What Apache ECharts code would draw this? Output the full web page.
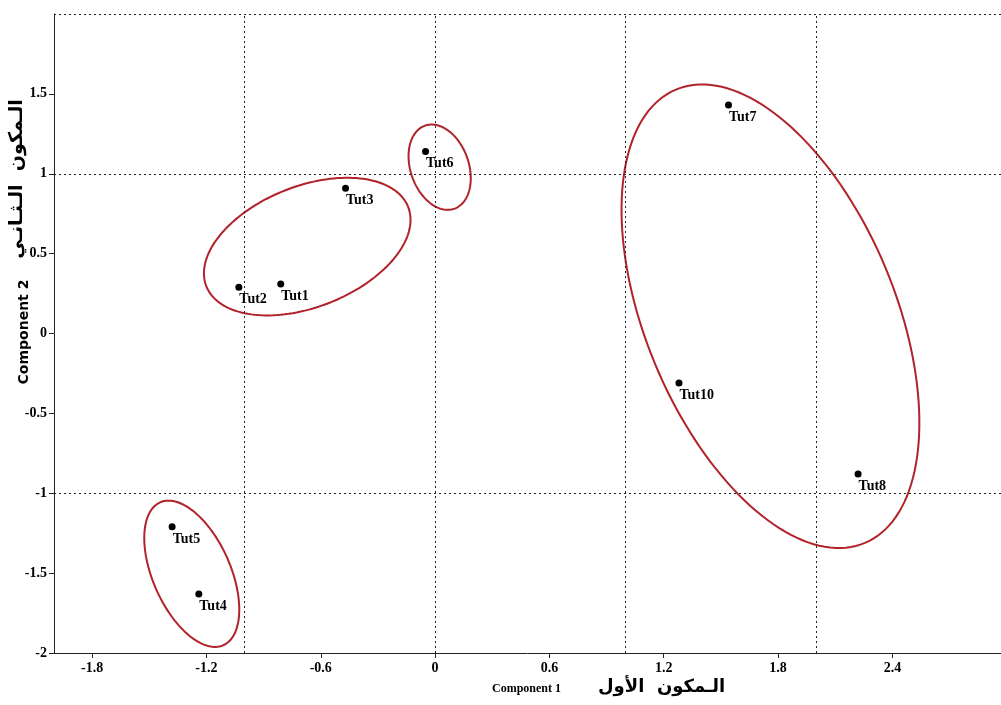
<!DOCTYPE html>
<html>
<head>
<meta charset="utf-8">
<script src="https://cdn.jsdelivr.net/npm/echarts@6/dist/echarts.min.js"></script>
<style>
html,body{margin:0;padding:0;background:#fff;}
#chart{width:1001px;height:705px;}
</style>
</head>
<body>
<div id="chart"></div>
<script>
// ---- data ----
const pointNames = ['Tut1','Tut2','Tut3','Tut4','Tut5','Tut6','Tut7','Tut8','Tut10'];
const component1 = [-0.81, -1.03, -0.47, -1.24, -1.38, -0.05, 1.54, 2.22, 1.28];
const component2 = [0.31, 0.29, 0.91, -1.63, -1.21, 1.14, 1.43, -0.88, -0.31];

// ellipses: centre and two conjugate semi-axis vectors, in data units
const ellipseCenterX = [-0.671, 0.024, 1.760, -1.277];
const ellipseCenterY = [0.544, 1.041, 0.108, -1.504];
const ellipseAxisA = [[0.530, 0.247], [0.077, -0.260], [0.496, -1.419], [0.166, -0.447]];
const ellipseAxisB = [[0.114, -0.353], [0.144, 0.061], [0.604, 0.303], [0.186, 0.099]];

const xTickValues = [-1.8, -1.2, -0.6, 0, 0.6, 1.2, 1.8, 2.4];
const yTickValues = [-2, -1.5, -1, -0.5, 0, 0.5, 1, 1.5];
const gridLinesX = [-1, 0, 1, 2];
const gridLinesY = [-1, 1, 2];

const xTitleEn = 'Component 1';
const xTitleAr = 'الـمكون  الأول';
const yTitleEn = 'Component 2';
const yTitleAr = 'الـمكون  الـثـانـي';

// ---- build ----
const points = pointNames.map((n, i) => ({ name: n, value: [component1[i], component2[i]] }));
const ellipses = ellipseCenterX.map((cx, i) => [cx, ellipseCenterY[i],
  ellipseAxisA[i][0], ellipseAxisA[i][1], ellipseAxisB[i][0], ellipseAxisB[i][1]]);

const serif = '"Liberation Serif", "Times New Roman", serif';
const chart = echarts.init(document.getElementById('chart'));

chart.setOption({
  animation: false,
  backgroundColor: '#fff',
  grid: { left: 54, right: 0, top: 14, bottom: 52, containLabel: false },
  xAxis: {
    type: 'value', min: -2, max: 2.97,
    axisLine: { show: true, onZero: false, lineStyle: { color: '#222', width: 1 } },
    axisTick: { show: true, customValues: xTickValues, length: 5, lineStyle: { color: '#222' } },
    axisLabel: { customValues: xTickValues, color: '#000', fontFamily: serif, fontWeight: 'bold', fontSize: 14, margin: 8 },
    splitLine: { show: false }
  },
  yAxis: {
    type: 'value', min: -2, max: 2,
    axisLine: { show: true, onZero: false, lineStyle: { color: '#222', width: 1 } },
    axisTick: { show: true, customValues: yTickValues, length: 5, lineStyle: { color: '#222' } },
    axisLabel: { customValues: yTickValues, color: '#000', fontFamily: serif, fontWeight: 'bold', fontSize: 14, margin: 7 },
    splitLine: { show: false }
  },
  graphic: [
    { type: 'text', left: 492, top: 683, style: { text: xTitleEn, font: 'bold 12px ' + serif, fill: '#000' } },
    { type: 'text', left: 598, top: 678, style: { text: xTitleAr, font: 'bold 18px "DejaVu Sans", sans-serif', fill: '#000' } },
    { type: 'text', x: 24, y: 332, rotation: Math.PI / 2, style: { text: yTitleEn, font: 'bold 14px "DejaVu Sans", sans-serif', fill: '#000', align: 'center', verticalAlign: 'middle' } },
    { type: 'text', x: 17, y: 179, rotation: Math.PI / 2, style: { text: yTitleAr, font: 'bold 19px "DejaVu Sans", sans-serif', fill: '#000', align: 'center', verticalAlign: 'middle' } }
  ],
  series: [
    {
      type: 'scatter', data: [], silent: true,
      markLine: {
        silent: true, symbol: 'none', animation: false,
        label: { show: false },
        lineStyle: { type: [2, 3], color: '#222', width: 1 },
        data: gridLinesX.map(v => ({ xAxis: v })).concat(gridLinesY.map(v => ({ yAxis: v })))
      }
    },
    {
      type: 'custom',
      data: ellipses,
      silent: true,
      renderItem: function (params, api) {
        const cx = api.value(0), cy = api.value(1);
        const ax = api.value(2), ay = api.value(3), bx = api.value(4), by = api.value(5);
        const pts = [];
        const N = 160;
        for (let k = 0; k < N; k++) {
          const t = 2 * Math.PI * k / N;
          const c = Math.cos(t), s = Math.sin(t);
          pts.push(api.coord([cx + ax * c + bx * s, cy + ay * c + by * s]));
        }
        return {
          type: 'polygon',
          shape: { points: pts },
          style: { fill: 'none', stroke: '#b0232a', lineWidth: 2 }
        };
      },
      encode: { x: 0, y: 1 }
    },
    {
      type: 'scatter',
      data: points,
      symbol: 'circle',
      symbolSize: 7,
      itemStyle: { color: '#000', opacity: 1 },
      label: {
        show: true,
        formatter: '{b}',
        position: [4, 9],
        color: '#000',
        fontFamily: serif,
        fontWeight: 'bold',
        fontSize: 14
      }
    }
  ]
});
</script>
</body>
</html>
